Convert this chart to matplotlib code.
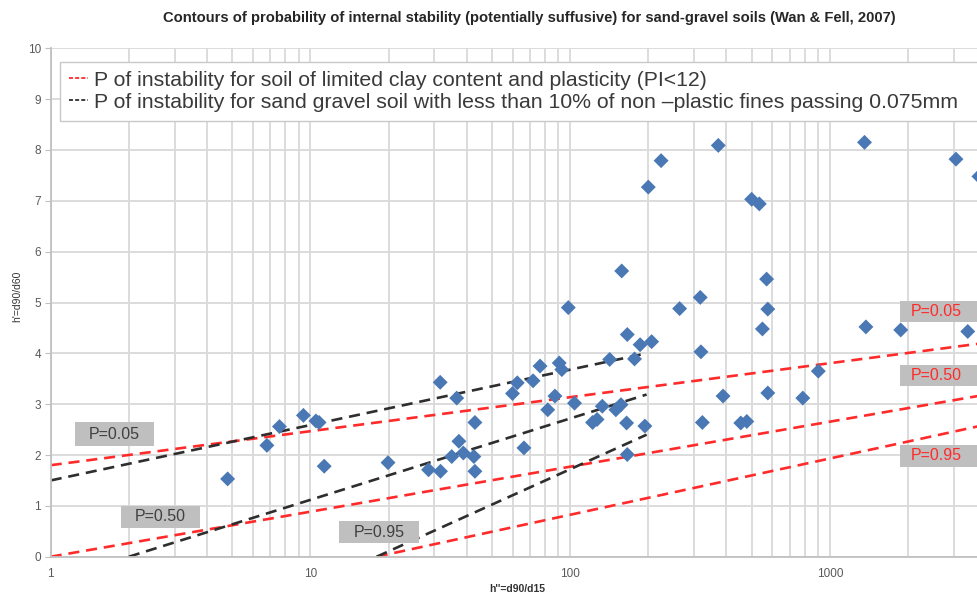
import matplotlib
matplotlib.use("Agg")
import matplotlib.pyplot as plt
from matplotlib.lines import Line2D
from matplotlib.patches import Rectangle
from matplotlib.ticker import FixedLocator, NullFormatter

# Measured soils: h'' = d90/d15 (x) and h' = d90/d60 (y)
h2_values = [4.8, 6.8, 7.6, 9.4, 10.5, 10.8, 11.3, 19.9, 28.5, 31.7,
             31.6, 35, 36.6, 37.3, 38.8, 42.6, 43, 43, 60, 62.6,
             66.4, 72, 76.6, 82, 87.4, 90.8, 92.9, 98.4, 104, 122,
             127, 133, 142, 150, 157, 158, 165, 166, 166, 177,
             186, 194, 200, 206, 224, 264, 317, 319, 323, 372,
             388, 454, 479, 500, 535, 550, 571, 577, 577, 787,
             903, 1360, 1377, 1875, 3060, 3397, 3750]
h1_values = [1.53, 2.19, 2.56, 2.78, 2.67, 2.64, 1.78, 1.85, 1.71, 1.68,
             3.43, 1.97, 3.12, 2.27, 2.04, 1.97, 2.64, 1.68, 3.21, 3.42,
             2.14, 3.46, 3.75, 2.89, 3.16, 3.81, 3.68, 4.90, 3.02, 2.64,
             2.70, 2.96, 3.88, 2.89, 2.99, 5.62, 2.63, 4.37, 2.01, 3.89,
             4.17, 2.57, 7.27, 4.23, 7.79, 4.88, 5.10, 4.03, 2.64, 8.09,
             3.16, 2.63, 2.66, 7.03, 6.94, 4.48, 5.46, 4.87, 3.22, 3.12,
             3.65, 8.15, 4.52, 4.46, 7.82, 4.43, 7.48]

# Probability contours as (h''_start, h'_start, h''_end, h'_end)
clay_contours = {
    "0.05": (1, 1.80, 4940, 4.27),
    "0.50": (1, 0.00, 4940, 3.27),
    "0.95": (18, 0.00, 4940, 2.70),
}
sandgravel_contours = {
    "0.05": (1, 1.50, 197, 4.00),
    "0.50": (2, 0.00, 197, 3.19),
    "0.95": (18, 0.00, 197, 2.40),
}

title = ("Contours of probability of internal stability (potentially suffusive) "
         "for sand-gravel soils (Wan & Fell, 2007)")
legend_labels = [
    "P of instability for soil of limited clay content and plasticity (PI<12)",
    "P of instability for sand gravel soil with less than 10% of non \u2013plastic fines passing 0.075mm",
]
x_ticks = [1, 10, 100, 1000]
x_tick_labels = ["1", "10", "100", "1000"]
y_ticks = list(range(0, 11))

plt.rcParams["font.family"] = ["Liberation Sans", "DejaVu Sans"]

W, H = 977, 595
fig = plt.figure(figsize=(W / 100, H / 100), dpi=100)
ax_left, ax_right, ax_top, ax_bottom = 50.7, 1010, 48.3, 556.7
ax = fig.add_axes([ax_left / W, (H - ax_bottom) / H,
                   (ax_right - ax_left) / W, (ax_bottom - ax_top) / H])
ax.set_xscale("log")
ax.set_xlim(1, 4940)
ax.set_ylim(0, 10)

grid_c = "#d9d9d9"
ax.xaxis.set_major_locator(FixedLocator(x_ticks))
ax.set_xticklabels(x_tick_labels)
minor = [m * 10 ** e for e in range(0, 4) for m in range(2, 10)]
ax.xaxis.set_minor_locator(FixedLocator(minor))
ax.xaxis.set_minor_formatter(NullFormatter())
ax.set_yticks(y_ticks)
ax.grid(True, which="both", axis="x", color=grid_c, lw=1.3, zorder=0)
ax.grid(True, which="major", axis="y", color=grid_c, lw=1.3, zorder=0)
ax.set_axisbelow(True)
for s in ("top", "right"):
    ax.spines[s].set_visible(False)
for s in ("left", "bottom"):
    ax.spines[s].set_color("#c0c0c0")
    ax.spines[s].set_linewidth(1.3)
ax.tick_params(axis="y", which="major", length=4, color="#c0c0c0",
               labelsize=8.5, labelcolor="#595959", pad=3)
ax.tick_params(axis="x", which="both", length=0, labelsize=8.5,
               labelcolor="#595959", pad=8)

red = "#ff2a2a"
dark = "#2e2e2e"
dash = (0, (4.2, 2.6))
for x0, y0, x1, y1 in clay_contours.values():
    ax.plot([x0, x1], [y0, y1], color=red, lw=1.9, ls=dash, zorder=2)
for x0, y0, x1, y1 in sandgravel_contours.values():
    ax.plot([x0, x1], [y0, y1], color=dark, lw=1.9, ls=dash, zorder=2)

ax.scatter(h2_values, h1_values, marker="D", s=58, color="#4a78b5",
           edgecolors="none", zorder=3, clip_on=False)

# Probability tags: grey boxes, left ones for the sand-gravel curves,
# right ones (red text) for the clay curves
box_c = "#bfbfbf"
tags = [
    ("P=0.05", 1.24, 2.50, 2.18, 2.64, "#404040"),
    ("P=0.50", 1.866, 3.76, 0.57, 1.00, "#404040"),
    ("P=0.95", 12.9, 26.2, 0.27, 0.70, "#404040"),
    ("P=0.05", 1862, 6000, 4.61, 5.02, red),
    ("P=0.50", 1862, 6000, 3.35, 3.78, red),
    ("P=0.95", 1862, 6000, 1.77, 2.20, red),
]
for txt, xa, xb, ya, yb, tc in tags:
    ax.add_patch(Rectangle((xa, ya), xb - xa, yb - ya, facecolor=box_c,
                           edgecolor="none", zorder=4, clip_on=False))
    if tc == red:
        xt = 2565
    else:
        xt = (xa * xb) ** 0.5
    ax.text(xt, (ya + yb) / 2, txt, ha="center", va="center", fontsize=11.5,
            color=tc, zorder=5)

handles = [Line2D([], [], color=red, lw=1.3, ls=(0, (2.2, 1.2))),
           Line2D([], [], color=dark, lw=1.3, ls=(0, (2.2, 1.2)))]
leg_top = 1 - 62 / H
leg = ax.legend(handles, legend_labels, loc="upper left", mode="expand",
                bbox_to_anchor=(60 / W, leg_top - 0.1, 980 / W, 0.1),
                bbox_transform=fig.transFigure, borderaxespad=0,
                fontsize=15.3, handlelength=0.9, handletextpad=0.3,
                labelspacing=0.14, borderpad=0.42, fancybox=False,
                framealpha=1, edgecolor="#c8c8c8", labelcolor="#3a3a3a")
leg.get_frame().set_linewidth(1.0)
leg.set_zorder(6)

fig.text(529 / W, 1 - 18 / H, title, ha="center", va="center",
         fontsize=10.6, fontweight="bold", color="#262626",
         family=["Liberation Sans Narrow", "Liberation Sans", "DejaVu Sans"])
fig.text(517 / W, 1 - 589 / H, "h''=d90/d15", ha="center", va="center",
         fontsize=7.5, fontweight="bold", color="#333333")
fig.text(17 / W, 1 - 296 / H, "h'=d90/d60", ha="center", va="center",
         rotation=90, fontsize=7.5, color="#333333")

fig.savefig("out.png", dpi=100)
